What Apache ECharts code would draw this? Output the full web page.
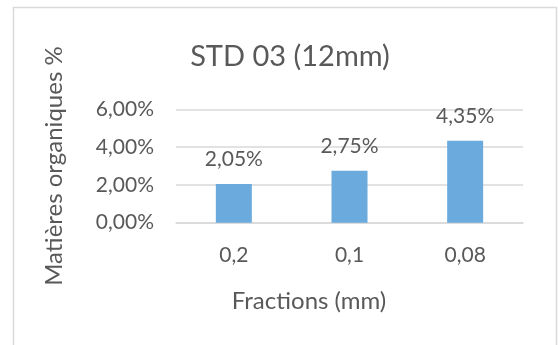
<!DOCTYPE html>
<html>
<head>
<meta charset="utf-8">
<script src="https://cdn.jsdelivr.net/npm/echarts@6/dist/echarts.min.js"></script>
<style>
html,body{margin:0;padding:0;background:#fff;}
#chart{width:558px;height:345px;}
</style>
</head>
<body>
<div id="chart"></div>
<script>
var categories = ['0,2', '0,1', '0,08'];
var values = [2.05, 2.75, 4.35];
var yTicks = [0, 2, 4, 6];
var titleText = 'STD 03 (12mm)';
var xTitle = 'Fractions (mm)';
var yTitle = 'Matières organiques %';

function pct(v) { return v.toFixed(2).replace('.', ',') + '%'; }

var FONT = 'Lato';
var TXT = '#595959';
var chart = echarts.init(document.getElementById('chart'), null, {renderer: 'canvas'});
chart.setOption({
  animation: false,
  backgroundColor: '#ffffff',
  graphic: [{
    type: 'rect',
    shape: {x: 13.5, y: 7.5, width: 543, height: 360},
    style: {fill: 'none', stroke: '#d9d9d9', lineWidth: 1.5},
    silent: true
  }],
  title: {
    text: titleText,
    left: 285,
    top: 37,
    textAlign: 'center',
    textStyle: {fontFamily: FONT, fontSize: 29, fontWeight: 'normal', color: TXT}
  },
  grid: {left: 176, right: 35, top: 109.5, bottom: 122.3, containLabel: false},
  xAxis: {
    type: 'category',
    data: categories,
    axisTick: {show: false},
    axisLine: {show: true, lineStyle: {color: '#d9d9d9', width: 1.5}},
    axisLabel: {fontFamily: FONT, fontSize: 21, color: TXT, margin: 22},
    name: xTitle,
    nameLocation: 'middle',
    nameGap: 67,
    nameTextStyle: {fontFamily: FONT, fontSize: 24, color: TXT, padding: [0, 81, 0, 0]}
  },
  yAxis: {
    type: 'value',
    min: yTicks[0],
    max: yTicks[yTicks.length - 1],
    interval: yTicks[1] - yTicks[0],
    axisLine: {show: false},
    axisTick: {show: false},
    splitLine: {lineStyle: {color: '#d9d9d9', width: 1.5}},
    axisLabel: {fontFamily: FONT, fontSize: 21, color: TXT, margin: 22, padding: [5, 0, 0, 0], formatter: pct},
    name: yTitle,
    nameLocation: 'middle',
    nameGap: 110,
    nameRotate: 90,
    nameTextStyle: {fontFamily: FONT, fontSize: 24, color: TXT}
  },
  series: [{
    type: 'bar',
    data: values,
    barWidth: 36,
    itemStyle: {color: '#6aaadc'},
    label: {
      show: true,
      position: 'top',
      distance: 14,
      fontFamily: FONT,
      fontSize: 21,
      color: TXT,
      formatter: function (p) { return pct(p.value); }
    }
  }]
});
</script>
</body>
</html>
